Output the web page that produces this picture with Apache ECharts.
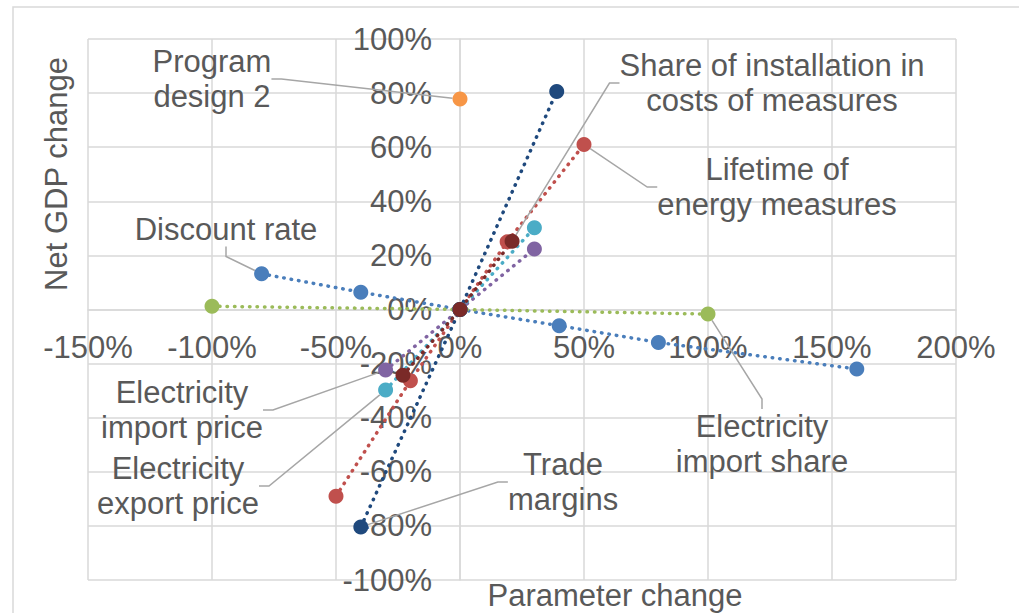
<!DOCTYPE html>
<html>
<head>
<meta charset="utf-8">
<script src="https://cdn.jsdelivr.net/npm/echarts@6/dist/echarts.min.js"></script>
<style>
  html, body { margin: 0; padding: 0; background: #ffffff; }
  #chart { width: 1019px; height: 613px; }
</style>
</head>
<body>
<div id="chart"></div>
<script>
// ---- data ----
const xTicks = [-150, -100, -50, 0, 50, 100, 150, 200];
const yTicks = [-100, -80, -60, -40, -20, 0, 20, 40, 60, 80, 100];

const discountRate      = [[-80, 13.2], [-40, 6.4], [0, 0], [40, -6.0], [80, -12.2], [160, -22.0]];
const lifetimeMeasures  = [[-50, -69.0], [-20, -26.3], [0, 0], [19, 25.0], [50, 61.0]];
const importShare       = [[-100, 1.2], [0, 0], [100, -1.7]];
const importPrice       = [[-30, -22.4], [0, 0], [30, 22.4]];
const exportPrice       = [[-30, -29.8], [0, 0], [30, 30.2]];
const programDesign2    = [[0, 77.8]];
const tradeMargins      = [[-40, -80.4], [0, 0], [39, 80.6]];
const shareInstallation = [[-23, -24.3], [0, 0], [21, 25.2]];

const seriesNames = [
  'Discount rate',
  'Lifetime of energy measures',
  'Electricity import share',
  'Electricity import price',
  'Electricity export price',
  'Program design 2',
  'Trade margins',
  'Share of installation in costs of measures'
];
const labelTexts = [
  'Discount rate',
  'Lifetime of\nenergy measures',
  'Electricity\nimport share',
  'Electricity\nimport price',
  'Electricity\nexport price',
  'Program\ndesign 2',
  'Trade\nmargins',
  'Share of installation in\ncosts of measures'
];
const labelledPoint = [0, 4, 2, 0, 0, 0, 0, 2];

// ---- styling / layout ----
const FONT = 'Liberation Sans, Arial, sans-serif';
const TEXT = '#595959';
const GRID = '#d9d9d9';
const FS = 31;
const colors = ['#4a7ebb', '#c0504d', '#9bbb59', '#8064a2', '#4bacc6', '#f79646', '#1f497d', '#7a2a28'];
const labelPos = [
  [226, 229], [777, 187], [762, 444], [182, 410],
  [178, 486], [212, 79], [563, 482], [772, 83]
];
const allData = [discountRate, lifetimeMeasures, importShare, importPrice,
                 exportPrice, programDesign2, tradeMargins, shareInstallation];

const series = allData.map(function (d, s) {
  return {
    type: 'line',
    name: seriesNames[s],
    data: d.map(function (p, i) {
      return i === labelledPoint[s]
        ? { value: p, label: { show: true, formatter: labelTexts[s] } }
        : { value: p };
    }),
    symbol: 'circle',
    symbolSize: 15,
    showAllSymbol: true,
    itemStyle: { color: colors[s] },
    lineStyle: { color: colors[s], width: 3.5, type: [0.5, 7], cap: 'round' },
    label: {
      show: false, fontSize: FS, fontFamily: FONT, color: TEXT,
      lineHeight: 35, align: 'center'
    },
    labelLine: { show: true, length2: 10, lineStyle: { color: '#a6a6a6', width: 1.5 } },
    labelLayout: { x: labelPos[s][0], y: labelPos[s][1], align: 'center', verticalAlign: 'middle' },
    emphasis: { disabled: true },
    silent: true,
    animation: false
  };
});

const chart = echarts.init(document.getElementById('chart'), null, { renderer: 'svg' });
chart.setOption({
  backgroundColor: '#ffffff',
  animation: false,
  grid: { left: 88, right: 63, top: 39, bottom: 33, containLabel: false, outerBoundsMode: 'none' },
  xAxis: {
    type: 'value',
    min: xTicks[0], max: xTicks[xTicks.length - 1], interval: 50,
    axisLine: { show: true, onZero: true, lineStyle: { color: GRID, width: 1.5 } },
    axisTick: { show: false },
    axisLabel: {
      formatter: '{value}%', fontSize: FS, fontFamily: FONT, color: TEXT,
      margin: 22, showMinLabel: true, showMaxLabel: true
    },
    splitLine: { show: true, lineStyle: { color: GRID, width: 1.5 } }
  },
  yAxis: {
    type: 'value',
    min: yTicks[0], max: yTicks[yTicks.length - 1], interval: 20,
    axisLine: { show: true, onZero: true, lineStyle: { color: GRID, width: 1.5 } },
    axisTick: { show: false },
    axisLabel: {
      formatter: '{value}%', fontSize: FS, fontFamily: FONT, color: TEXT,
      margin: 28, showMinLabel: true, showMaxLabel: true
    },
    splitLine: { show: true, lineStyle: { color: GRID, width: 1.5 } }
  },
  graphic: [
    {
      type: 'rect', silent: true, z: -10,
      shape: { x: 13, y: 7, width: 1100, height: 700 },
      style: { fill: 'none', stroke: GRID, lineWidth: 1.5 }
    },
    {
      type: 'text', x: 56, y: 174, rotation: Math.PI / 2,
      style: { text: 'Net GDP change', fontSize: FS, fontFamily: FONT, fill: TEXT,
               textAlign: 'center', textVerticalAlign: 'middle' }
    },
    {
      type: 'text', x: 615, y: 595,
      style: { text: 'Parameter change', fontSize: FS, fontFamily: FONT, fill: TEXT,
               textAlign: 'center', textVerticalAlign: 'middle' }
    }
  ],
  series: series
});

// Make the axes cross at the origin (0, 0), using the library's own scales.
const zeroY = chart.convertToPixel({ yAxisIndex: 0 }, 0);
const bottomY = chart.convertToPixel({ yAxisIndex: 0 }, yTicks[0]);
const zeroX = chart.convertToPixel({ xAxisIndex: 0 }, 0);
const leftX = chart.convertToPixel({ xAxisIndex: 0 }, xTicks[0]);
chart.setOption({
  xAxis: { offset: zeroY - bottomY },
  yAxis: { offset: leftX - zeroX }
});
</script>
</body>
</html>
